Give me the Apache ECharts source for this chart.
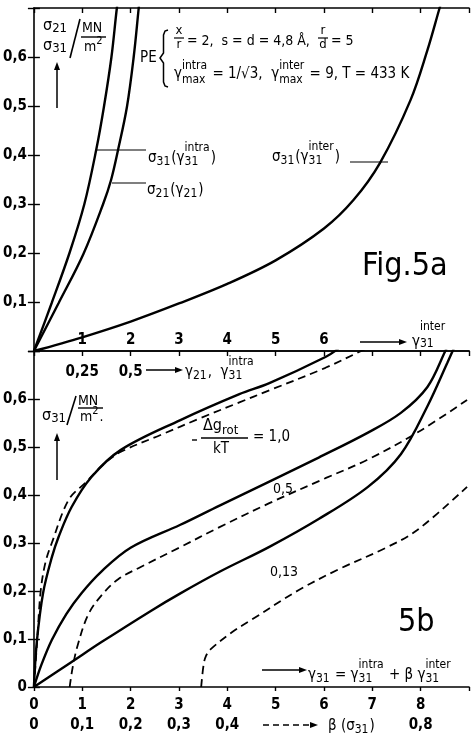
<!DOCTYPE html>
<html>
<head>
<meta charset="utf-8">
<script src="https://cdn.jsdelivr.net/npm/echarts@6/dist/echarts.min.js"></script>
<style>
  html, body { margin: 0; padding: 0; background: #fff; }
  #chart { width: 472px; height: 739px; }
</style>
</head>
<body>
<div id="chart"></div>
<script>
// ---- Fig. 5a (top panel) ----
// sigma31(gamma31 intra), x = gamma intra
const intraA = [0, 0.092, 0.184, 0.261, 0.322, 0.362, 0.401, 0.429, 0.44];
const sigA = [0, 0.098, 0.2, 0.30, 0.41, 0.498, 0.6, 0.7, 0.73];
// sigma21(gamma21), x = gamma21
const intraB = [0, 0.128, 0.256, 0.358, 0.399, 0.435, 0.481, 0.516, 0.542, 0.55];
const sigB = [0, 0.098, 0.198, 0.30, 0.349, 0.41, 0.498, 0.6, 0.7, 0.73];
// sigma31(gamma31 inter), x = gamma inter
const interC = [0, 1, 2, 3, 4, 5, 6, 6.61, 7.16, 7.79, 8.14, 8.38, 8.45];
const sigC = [0, 0.028, 0.06, 0.097, 0.137, 0.185, 0.25, 0.308, 0.384, 0.512, 0.614, 0.696, 0.72];

// ---- Fig. 5b (bottom panel) ----
// solid: sigma31 vs gamma31, -dg_rot/kT = 1.0, 0.5, 0.13
const gamS1 = [0, 0.06, 0.19, 0.37, 0.51, 0.78, 1.19, 1.80, 3.03, 4.25, 4.87, 6.03, 6.3];
const sigS1 = [0, 0.094, 0.196, 0.27, 0.3125, 0.375, 0.4375, 0.494, 0.556, 0.61, 0.633, 0.6875, 0.705];
const gamS2 = [0, 0.15, 0.37, 0.67, 0.98, 1.39, 2.0, 3.03, 3.84, 4.87, 5.89, 6.91, 7.59, 8.14, 8.51, 8.6];
const sigS2 = [0, 0.045, 0.098, 0.152, 0.195, 0.24, 0.29, 0.338, 0.378, 0.428, 0.478, 0.53, 0.571, 0.625, 0.70, 0.72];
const gamS3 = [0, 0.78, 1.39, 2.41, 3.03, 3.84, 4.87, 5.89, 6.91, 7.59, 8.14, 8.55, 8.75];
const sigS3 = [0, 0.052, 0.093, 0.158, 0.195, 0.24, 0.292, 0.35, 0.417, 0.485, 0.585, 0.675, 0.72];
// dashed: sigma31 vs beta(sigma31)
const betaD1 = [0, 0.007, 0.014, 0.024, 0.037, 0.072, 0.108, 0.145, 0.18, 0.262, 0.344, 0.425, 0.487, 0.603, 0.677, 0.70];
const sigD1 = [0, 0.1, 0.2, 0.26, 0.3, 0.39, 0.427, 0.465, 0.49, 0.525, 0.56, 0.593, 0.618, 0.665, 0.70, 0.71];
const betaD2 = [0.074, 0.08, 0.09, 0.112, 0.139, 0.175, 0.221, 0.30, 0.384, 0.487, 0.603, 0.689, 0.793, 0.896];
const sigD2 = [0, 0.04, 0.085, 0.15, 0.19, 0.225, 0.25, 0.29, 0.333, 0.383, 0.435, 0.473, 0.53, 0.598];
const betaD3 = [0.346, 0.351, 0.356, 0.367, 0.411, 0.45, 0.548, 0.63, 0.728, 0.793, 0.896];
const sigD3 = [0, 0.046, 0.065, 0.08, 0.115, 0.14, 0.202, 0.245, 0.29, 0.327, 0.417];

// tick labels
const topYLabels = ['', '0,1', '0,2', '0,3', '0,4', '0,5', '0,6', ''];
const botYLabels = ['0', '0,1', '0,2', '0,3', '0,4', '0,5', '0,6', ''];
const interLabels = ['', '1', '2', '3', '4', '5', '6', '', '', ''];
const intraLabels = ['', '0,25', '0,5', '', '', '', '', '', '', ''];
const gammaLabels = ['0', '1', '2', '3', '4', '5', '6', '7', '8', ''];
const betaLabels = ['0', '0,1', '0,2', '0,3', '0,4', '', '', '', '0,8', ''];

const FF = '"DejaVu Sans Condensed", "DejaVu Sans", sans-serif';
const ctx = document.createElement('canvas').getContext('2d');
function measure(t, size) {
  ctx.font = size + 'px ' + FF;
  return ctx.measureText(t).width;
}
function txt(x, y, t, size, weight) {
  return {
    type: 'text', x: x, y: y, silent: true,
    style: {
      text: t, fontSize: size, fontFamily: FF, fontWeight: weight || 'normal', fill: '#000',
      align: 'left', verticalAlign: 'middle', textAlign: 'left', textVerticalAlign: 'middle'
    }
  };
}
// text with sub/superscripts; y is the middle of the main text
function run(x, y, parts, size, opt) {
  opt = opt || {};
  const supDy = opt.sup != null ? opt.sup : 0.7;
  const subDy = opt.sub != null ? opt.sub : 0.28;
  const s = Math.round(size * 0.8);
  const els = [];
  let cx = x;
  parts.forEach(function (p) {
    if (typeof p === 'string') {
      els.push(txt(cx, y, p, size));
      cx += measure(p, size);
    } else {
      let w = 0;
      if (p.sup) { els.push(txt(cx, y - size * supDy, p.sup, s)); w = Math.max(w, measure(p.sup, s)); }
      if (p.sub) { els.push(txt(cx, y + size * subDy, p.sub, s)); w = Math.max(w, measure(p.sub, s)); }
      cx += w + 1;
    }
  });
  return els;
}
function line(x1, y1, x2, y2, w, dash) {
  return {
    type: 'line', silent: true, shape: { x1: x1, y1: y1, x2: x2, y2: y2 },
    style: { stroke: '#000', lineWidth: w || 1.5, lineDash: dash || null }
  };
}
function arrow(x1, y1, x2, y2, dash) {
  const a = Math.atan2(y2 - y1, x2 - x1), L = 8, W = 3;
  const bx = x2 - L * Math.cos(a), by = y2 - L * Math.sin(a);
  return [
    line(x1, y1, bx, by, 1.5, dash),
    { type: 'polygon', silent: true,
      shape: { points: [[x2, y2], [bx - W * Math.sin(a), by + W * Math.cos(a)], [bx + W * Math.sin(a), by - W * Math.cos(a)]] },
      style: { fill: '#000' } }
  ];
}
function ctxt(cx, y, t, size) {
  const e = txt(cx, y, t, size);
  e.style.align = 'center'; e.style.textAlign = 'center';
  return e;
}

const graphics = [].concat(
  // top axis title
  run(43, 26, ['σ', { sub: '21' }], 16, { sub: 0.15 }),
  run(43, 46, ['σ', { sub: '31' }], 16, { sub: 0.15 }),
  [line(80, 19, 70, 58, 1.6), txt(82, 28, 'MN', 14), line(81, 37, 106, 37, 1.4)],
  run(84, 47, ['m', { sup: '2' }], 14, { sup: 0.4 }),
  arrow(57, 108, 57, 62),
  // PE block
  [txt(140, 58, 'PE', 15),
   { type: 'polyline', silent: true,
     shape: { points: [[168, 30], [165, 31], [163.5, 35], [163.5, 53], [160, 58], [163.5, 63], [163.5, 82], [165, 86], [168, 87]] },
     style: { stroke: '#000', fill: null, lineWidth: 1.5 } },
   ctxt(179, 31, 'x', 13), line(174, 38, 184, 38, 1.2), ctxt(179, 45, 'r', 13),
   txt(187, 41, '= 2,  s = d = 4,8 Å,', 14),
   ctxt(323, 31, 'r', 13), line(318, 38, 328, 38, 1.2), ctxt(323, 45, 'd', 13),
   txt(331, 41, '= 5', 14)],
  run(174, 74, ['γ', { sup: 'intra', sub: 'max' }, ' = 1/√3,  γ', { sup: 'inter', sub: 'max' }, ' = 9, T = 433 K'], 15, { sup: 0.55, sub: 0.4 }),
  // curve labels
  [line(97, 150, 146, 150, 1.2), line(112, 183, 146, 183, 1.2), line(350, 162, 388, 162, 1.2)],
  run(148, 158, ['σ', { sub: '31' }, '(γ', { sup: 'intra', sub: '31' }, ')'], 15),
  run(147, 190, ['σ', { sub: '21' }, '(γ', { sub: '21' }, ')'], 15),
  run(272, 157, ['σ', { sub: '31' }, '(γ', { sup: 'inter', sub: '31' }, ')'], 15),
  [txt(362, 267, 'Fig.5a', 32)],
  arrow(360, 342, 407, 342),
  run(412, 342, ['γ', { sup: 'inter', sub: '31' }], 15, { sup: 1.0, sub: 0.1 }),
  arrow(146, 370, 183, 370),
  run(185, 372, ['γ', { sub: '21' }, ',  γ', { sup: 'intra', sub: '31' }], 15),
  // bottom axis title
  run(42, 416, ['σ', { sub: '31' }], 16, { sub: 0.15 }),
  [line(76, 396, 67, 425, 1.6), txt(78, 401, 'MN', 14), line(78, 408, 103, 408, 1.4)],
  run(80, 417, ['m', { sup: '2' }, '.'], 14, { sup: 0.4 }),
  arrow(57, 480, 57, 433),
  // -dg_rot/kT
  [line(192, 440, 197, 440, 1.4)],
  run(203, 426, ['Δg', { sub: 'rot' }], 16, { sub: 0.3 }),
  [line(201, 438, 248, 438, 1.4), txt(213, 449, 'kT', 15), txt(253, 437, '= 1,0', 15),
   txt(273, 489, '0,5', 14), txt(270, 572, '0,13', 14), txt(398, 623, '5b', 32)],
  arrow(262, 670, 307, 670),
  run(308, 675, ['γ', { sub: '31' }, ' = γ', { sup: 'intra', sub: '31' }, ' + β γ', { sup: 'inter', sub: '31' }], 15),
  arrow(263, 725, 318, 725, [6, 4]),
  run(328, 726, ['β (σ', { sub: '31' }, ')'], 15)
);

function zip(xs, ys) { return xs.map(function (x, i) { return [x, ys[i]]; }); }

const black = '#000';
const axisLine = { show: true, lineStyle: { color: black, width: 1.6 } };
const lblStyle = { color: black, fontSize: 15, fontWeight: 'bold', fontFamily: FF };
function byIndex(arr, step) {
  return function (v) { const s = arr[Math.round(v / step)]; return s == null ? '' : s; };
}

const solid = { color: black, width: 2.4 };
const dashed = { color: black, width: 1.8, type: [8, 5] };
function lineSeries(xi, yi, data, style) {
  return {
    type: 'line', xAxisIndex: xi, yAxisIndex: yi, data: data, showSymbol: false, symbol: 'none',
    smooth: 0.35, lineStyle: style, silent: true, clip: true
  };
}

const chart = echarts.init(document.getElementById('chart'), null, { renderer: 'canvas' });
chart.setOption({
  animation: false,
  backgroundColor: '#fff',
  grid: [
    { left: 32, top: 8, width: 441, height: 343 },
    { left: 32, top: 351, width: 441, height: 336 }
  ],
  xAxis: [
    { gridIndex: 0, type: 'value', position: 'bottom', min: 0, max: 9, interval: 1,
      axisLine: axisLine, axisTick: { show: false }, splitLine: { show: false },
      axisLabel: Object.assign({ inside: true, margin: 3, formatter: byIndex(interLabels, 1) }, lblStyle) },
    { gridIndex: 0, type: 'value', position: 'bottom', min: 0, max: 2.25, interval: 0.25,
      axisLine: { show: false }, axisTick: { show: false }, splitLine: { show: false },
      axisLabel: Object.assign({ margin: 14, formatter: byIndex(intraLabels, 0.25) }, lblStyle) },
    { gridIndex: 0, type: 'value', position: 'top', min: 0, max: 9, interval: 1,
      axisLine: axisLine, axisTick: { inside: true, length: 5, lineStyle: { color: black, width: 1.4 } },
      splitLine: { show: false }, axisLabel: { show: false } },
    { gridIndex: 1, type: 'value', position: 'bottom', min: 0, max: 9, interval: 1,
      axisLine: axisLine, axisTick: { inside: false, length: 4, lineStyle: { color: black, width: 1.4 } },
      splitLine: { show: false },
      axisLabel: Object.assign({ margin: 11, formatter: byIndex(gammaLabels, 1) }, lblStyle) },
    { gridIndex: 1, type: 'value', position: 'bottom', min: 0, max: 0.9, interval: 0.1,
      axisLine: { show: false }, axisTick: { show: false }, splitLine: { show: false },
      axisLabel: Object.assign({ margin: 31, formatter: byIndex(betaLabels, 0.1) }, lblStyle) },
    { gridIndex: 1, type: 'value', position: 'top', min: 0, max: 9, interval: 1,
      axisLine: axisLine, axisTick: { inside: true, length: 5, lineStyle: { color: black, width: 1.4 } },
      splitLine: { show: false }, axisLabel: { show: false } }
  ],
  yAxis: [
    { gridIndex: 0, type: 'value', position: 'left', min: 0, max: 0.7, interval: 0.1,
      axisLine: axisLine, axisTick: { inside: true, length: 6, lineStyle: { color: black, width: 1.4 } },
      splitLine: { show: false },
      axisLabel: Object.assign({ margin: 7, formatter: byIndex(topYLabels, 0.1) }, lblStyle) },
    { gridIndex: 0, type: 'value', position: 'right', min: 0, max: 0.7, interval: 0.1,
      axisLine: { show: false }, axisTick: { inside: true, length: 6, lineStyle: { color: black, width: 1.4 } },
      splitLine: { show: false }, axisLabel: { show: false } },
    { gridIndex: 1, type: 'value', position: 'left', min: 0, max: 0.7, interval: 0.1,
      axisLine: axisLine, axisTick: { inside: true, length: 6, lineStyle: { color: black, width: 1.4 } },
      splitLine: { show: false },
      axisLabel: Object.assign({ margin: 7, formatter: byIndex(botYLabels, 0.1) }, lblStyle) },
    { gridIndex: 1, type: 'value', position: 'right', min: 0, max: 0.7, interval: 0.1,
      axisLine: { show: false }, axisTick: { inside: true, length: 6, lineStyle: { color: black, width: 1.4 } },
      splitLine: { show: false }, axisLabel: { show: false } }
  ],
  series: [
    lineSeries(1, 0, zip(intraA, sigA), solid),
    lineSeries(1, 0, zip(intraB, sigB), solid),
    lineSeries(0, 0, zip(interC, sigC), solid),
    lineSeries(3, 2, zip(gamS1, sigS1), solid),
    lineSeries(3, 2, zip(gamS2, sigS2), solid),
    lineSeries(3, 2, zip(gamS3, sigS3), solid),
    lineSeries(4, 2, zip(betaD1, sigD1), dashed),
    lineSeries(4, 2, zip(betaD2, sigD2), dashed),
    lineSeries(4, 2, zip(betaD3, sigD3), dashed)
  ],
  graphic: { elements: graphics }
});
</script>
</body>
</html>
